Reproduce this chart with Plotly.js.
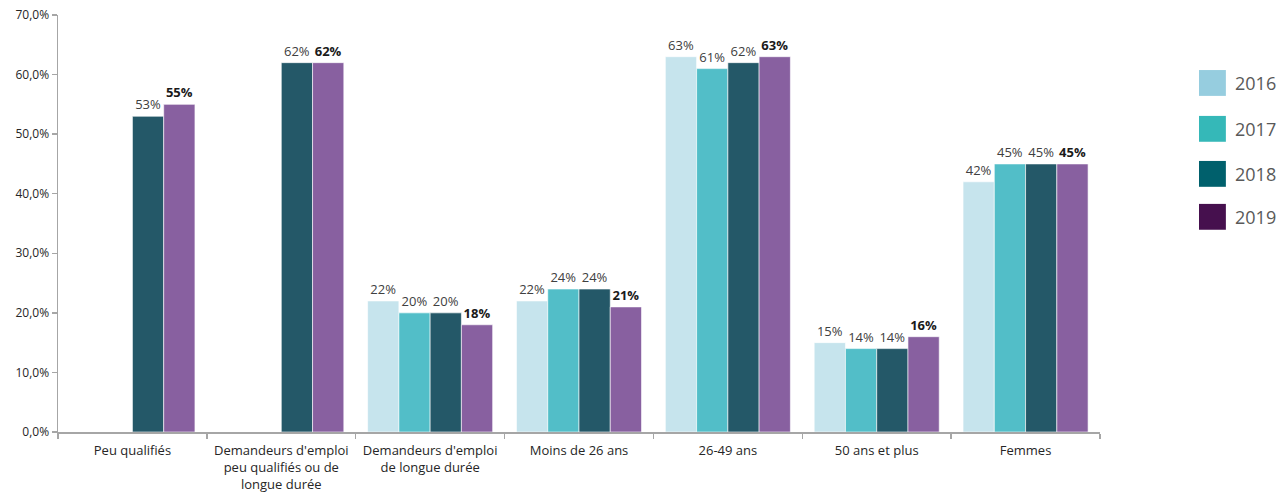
<!DOCTYPE html>
<html><head><meta charset="utf-8">
<script src="https://cdn.plot.ly/plotly-3.0.1.min.js"></script>
<style>body{margin:0;background:#fff}#chart{width:1288px;height:499px}</style>
</head><body><div id="chart"></div>
<script>
const categories = ["Peu qualifiés", "Demandeurs d'emploi<br>peu qualifiés ou de<br>longue durée", "Demandeurs d'emploi<br>de longue durée", "Moins de 26 ans", "26-49 ans", "50 ans et plus", "Femmes"];
const years = ["2016", "2017", "2018", "2019"];
const v2016 = [null, null, 22, 22, 63, 15, 42];
const v2017 = [null, null, 20, 24, 61, 14, 45];
const v2018 = [53, 62, 20, 24, 62, 14, 45];
const v2019 = [55, 62, 18, 21, 63, 16, 45];
const barColors = ["#C6E4ED", "#52BEC8", "#245868", "#8860A0"];
const legendColors = ["#96CDDF", "#35B8B8", "#00606C", "#46104E"];
const series = [v2016, v2017, v2018, v2019];

const font = "'Open Sans', 'Noto Sans', sans-serif";
const traces = series.map((vals, i) => ({
  type: "bar",
  name: years[i],
  x: categories,
  y: vals,
  marker: {color: barColors[i], line: {color: "#ffffff", width: 0.6}},
  texttemplate: i === 3 ? "<b>%{y:.0f}%</b>" : "%{y:.0f}%",
  textposition: "outside",
  constraintext: "none",
  cliponaxis: false,
  textfont: {family: font, size: 13, color: i === 3 ? "#1a1a1a" : "#404040"},
  showlegend: false,
  hoverinfo: "x+y"
}));

const shapes = [], annotations = [];
const legY = [0.837, 0.727, 0.619, 0.516];
years.forEach((yr, i) => {
  shapes.push({type: "rect", xref: "paper", yref: "paper", x0: 1.095, x1: 1.1208,
    y0: legY[i] - 0.031, y1: legY[i] + 0.031, fillcolor: legendColors[i], line: {width: 0}});
  annotations.push({xref: "paper", yref: "paper", x: 1.128, y: legY[i], xanchor: "left", yanchor: "middle",
    text: yr, showarrow: false, font: {family: font, size: 18, color: "#595959"}});
});

const layout = {
  width: 1288, height: 499,
  margin: {l: 58, r: 188, t: 15, b: 67},
  paper_bgcolor: "#ffffff", plot_bgcolor: "#ffffff",
  barmode: "group", bargap: 0.16, bargroupgap: 0,
  separators: ", ",
  font: {family: font, size: 12, color: "#404040"},
  xaxis: {
    type: "category", showline: true, linecolor: "#a6a6a6", linewidth: 1.5,
    ticks: "outside", tickson: "boundaries", ticklen: 5, tickcolor: "#a6a6a6", tickwidth: 1.5,
    ticklabelstandoff: 6, tickangle: 0, automargin: false,
    tickfont: {family: font, size: 13, color: "#262626"}, showgrid: false, zeroline: false
  },
  yaxis: {
    range: [0, 70], dtick: 10, tickformat: ".1f", ticksuffix: "%",
    showline: true, linecolor: "#a6a6a6", linewidth: 1.5,
    ticks: "outside", ticklen: 5, tickcolor: "#a6a6a6", tickwidth: 1.5,
    tickfont: {family: font, size: 12, color: "#262626"}, showgrid: false, zeroline: false
  },
  shapes: shapes, annotations: annotations
};
Plotly.newPlot("chart", traces, layout, {displayModeBar: false, staticPlot: true});
</script></body></html>
